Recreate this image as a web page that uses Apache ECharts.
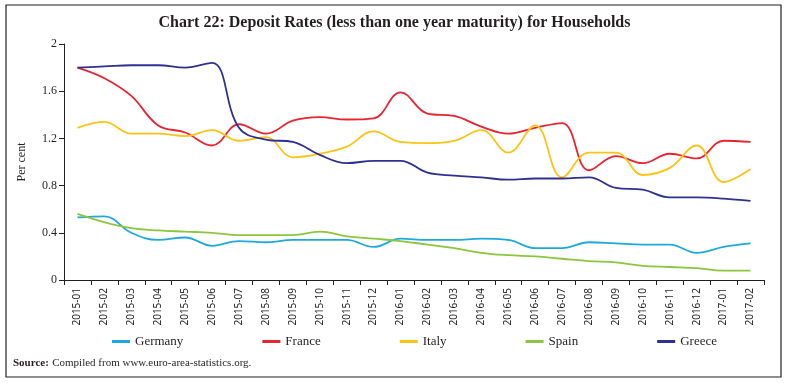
<!DOCTYPE html>
<html><head><meta charset="utf-8">
<script src="https://cdn.jsdelivr.net/npm/echarts@6/dist/echarts.min.js"></script>
<style>html,body{margin:0;padding:0;background:#fff}#c{width:789px;height:383px}</style>
</head><body><div id="c"></div>
<script>
const categories = ['2015-01','2015-02','2015-03','2015-04','2015-05','2015-06','2015-07','2015-08','2015-09','2015-10','2015-11','2015-12','2016-01','2016-02','2016-03','2016-04','2016-05','2016-06','2016-07','2016-08','2016-09','2016-10','2016-11','2016-12','2017-01','2017-02'];
const germany = [0.53,0.54,0.40,0.34,0.36,0.29,0.33,0.32,0.34,0.34,0.34,0.28,0.35,0.34,0.34,0.35,0.34,0.27,0.27,0.32,0.31,0.30,0.30,0.23,0.28,0.31];
const france  = [1.80,1.71,1.56,1.31,1.25,1.14,1.32,1.24,1.35,1.38,1.36,1.37,1.59,1.41,1.39,1.30,1.24,1.29,1.33,0.93,1.05,0.99,1.07,1.03,1.18,1.17];
const italy   = [1.29,1.34,1.24,1.24,1.22,1.27,1.18,1.21,1.04,1.07,1.13,1.26,1.17,1.16,1.18,1.27,1.08,1.31,0.87,1.08,1.08,0.89,0.95,1.14,0.83,0.94];
const spain   = [0.56,0.49,0.44,0.42,0.41,0.40,0.38,0.38,0.38,0.41,0.37,0.35,0.33,0.30,0.27,0.23,0.21,0.20,0.18,0.16,0.15,0.12,0.11,0.10,0.08,0.08];
const greece  = [1.80,1.81,1.82,1.82,1.80,1.84,1.29,1.19,1.17,1.06,0.99,1.01,1.01,0.91,0.885,0.87,0.85,0.86,0.86,0.87,0.78,0.765,0.70,0.70,0.69,0.67];
const yTicks = [0,0.4,0.8,1.2,1.6,2];
const seriesNames = ['Germany','France','Italy','Spain','Greece'];
const seriesData = [germany,france,italy,spain,greece];
const colors = ['#1ea8e0','#ea2330','#fdc315','#8cc63e','#2e3191'];

const chart = echarts.init(document.getElementById('c'));
chart.setOption({
  animation:false,
  color: colors,
  title:{text:'Chart 22: Deposit Rates (less than one year maturity) for Households',left:'center',top:10,
    textStyle:{fontFamily:'Liberation Serif',fontWeight:'bold',fontSize:16,color:'#231f20'}},
  grid:{left:64,right:25,top:44,bottom:103},
  legend:{top:330,left:107,itemWidth:18,itemHeight:3,itemGap:79,icon:'rect',
    textStyle:{fontFamily:'Liberation Serif',fontSize:13,color:'#231f20'},data:seriesNames},
  xAxis:{type:'category',data:categories,boundaryGap:true,
    axisLine:{lineStyle:{color:'#231f20',width:1}},
    axisTick:{show:true,alignWithLabel:false,length:5,lineStyle:{color:'#231f20'}},
    axisLabel:{rotate:90,interval:0,fontFamily:'Noto Sans',fontSize:10,color:'#231f20',margin:8}},
  yAxis:{type:'value',min:0,max:2,interval:0.4,name:'Per cent',nameLocation:'middle',nameGap:36,
    nameTextStyle:{fontFamily:'Liberation Serif',fontSize:12,color:'#231f20'},
    axisLine:{show:true,lineStyle:{color:'#231f20',width:1}},
    axisTick:{show:true,length:5,lineStyle:{color:'#231f20'}},
    splitLine:{show:false},
    axisLabel:{fontFamily:'Liberation Serif',fontSize:12,color:'#231f20',margin:7,
      formatter:v=>{const t=yTicks.find(x=>Math.abs(x-v)<1e-9);return t===undefined?'':String(t);}}},
  series: seriesNames.map((n,i)=>({name:n,type:'line',data:seriesData[i],smooth:0.4,symbol:'none',
    lineStyle:{width:1.8,color:colors[i]},itemStyle:{color:colors[i]}})),
  graphic:[
    {type:'rect',shape:{x:6,y:5,width:775,height:372},style:{fill:'none',stroke:'#231f20',lineWidth:1.2},silent:true},
    {type:'text',left:13,top:357,style:{rich:{b:{fontWeight:'bold',fontFamily:'Liberation Serif',fontSize:11,fill:'#231f20'},n:{fontFamily:'Liberation Serif',fontSize:11,fill:'#231f20'}},
      text:'{b|Source:} {n|Compiled from www.euro-area-statistics.org.}'}}
  ]
});
</script></body></html>
